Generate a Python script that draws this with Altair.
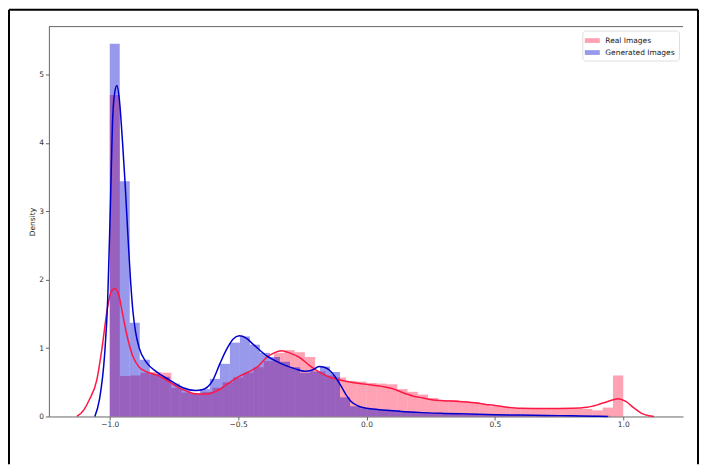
import altair as alt
import pandas as pd

# ---------------- data ----------------
series = ["Real Images", "Generated Images"]

REAL_BIN_START = -1.0
REAL_BIN_WIDTH = 0.04
real_density = [
    4.70, 0.59, 0.60, 0.64, 0.65, 0.64, 0.42, 0.35, 0.33, 0.36,
    0.42, 0.50, 0.57, 0.64, 0.72, 0.81, 0.93, 0.97, 0.94, 0.87,
    0.66, 0.60, 0.57, 0.52, 0.51, 0.49, 0.48, 0.47, 0.40, 0.36,
    0.32, 0.27, 0.24, 0.24, 0.22, 0.21, 0.18, 0.15, 0.14, 0.12,
    0.12, 0.11, 0.11, 0.11, 0.11, 0.11, 0.11, 0.09, 0.13, 0.60,
]

GEN_BIN_START = -1.0
GEN_BIN_WIDTH = 0.039
gen_density = [
    5.45, 3.44, 1.37, 0.83, 0.62, 0.58, 0.48, 0.40, 0.34, 0.40,
    0.55, 0.77, 1.08, 1.17, 1.05, 0.93, 0.87, 0.80, 0.72, 0.64,
    0.66, 0.73, 0.65, 0.28, 0.15, 0.12, 0.11, 0.10, 0.09, 0.08,
    0.07, 0.06, 0.05, 0.04, 0.04, 0.03, 0.03, 0.02, 0.02, 0.02,
    0.02, 0.02, 0.01, 0.01, 0.01, 0.01, 0.01, 0.01, 0.01, 0.01,
]

real_kde_x = [-1.128, -1.10, -1.08, -1.05, -1.03, -1.01, -0.995, -0.98, -0.965, -0.95,
              -0.935, -0.91, -0.885, -0.86, -0.83, -0.80, -0.77, -0.74, -0.70, -0.66,
              -0.62, -0.58, -0.54, -0.50, -0.46, -0.42, -0.39, -0.36, -0.33, -0.30,
              -0.26, -0.22, -0.18, -0.14, -0.10, -0.06, -0.02, 0.02, 0.06, 0.10,
              0.14, 0.18, 0.22, 0.26, 0.30, 0.36, 0.42, 0.48, 0.54, 0.60,
              0.70, 0.80, 0.86, 0.90, 0.94, 0.98, 1.01, 1.04, 1.07, 1.10, 1.12]
real_kde_y = [0.0, 0.10, 0.24, 0.54, 1.00, 1.56, 1.82, 1.87, 1.78, 1.50,
              1.22, 0.88, 0.72, 0.66, 0.62, 0.58, 0.51, 0.44, 0.37, 0.33,
              0.33, 0.38, 0.48, 0.58, 0.65, 0.74, 0.86, 0.93, 0.96, 0.93,
              0.86, 0.74, 0.64, 0.57, 0.53, 0.50, 0.48, 0.46, 0.44, 0.41,
              0.35, 0.30, 0.27, 0.24, 0.23, 0.22, 0.20, 0.17, 0.14, 0.12,
              0.115, 0.12, 0.135, 0.17, 0.22, 0.26, 0.22, 0.13, 0.05, 0.01, 0.0]

gen_kde_x = [-1.058, -1.04, -1.02, -1.008, -0.998, -0.988, -0.98, -0.972, -0.963, -0.95,
             -0.94, -0.93, -0.92, -0.91, -0.90, -0.885, -0.857, -0.82, -0.77, -0.715,
             -0.665, -0.64, -0.60, -0.57, -0.545, -0.52, -0.495, -0.47, -0.44, -0.39,
             -0.33, -0.28, -0.24, -0.21, -0.185, -0.165, -0.145, -0.12, -0.10, -0.08,
             -0.06, -0.03, 0.0, 0.05, 0.12, 0.2, 0.3, 0.4, 0.5, 0.6,
             0.7, 0.8, 0.9, 0.94]
gen_kde_y = [0.0, 0.25, 0.9, 1.7, 3.0, 4.4, 4.75, 4.84, 4.65, 4.0,
             3.4, 2.7, 2.05, 1.55, 1.25, 1.0, 0.79, 0.66, 0.54, 0.42,
             0.38, 0.39, 0.52, 0.78, 0.98, 1.13, 1.18, 1.15, 1.05, 0.89,
             0.77, 0.70, 0.66, 0.68, 0.73, 0.72, 0.68, 0.57, 0.45, 0.32,
             0.22, 0.15, 0.12, 0.10, 0.08, 0.06, 0.045, 0.035, 0.025, 0.02,
             0.015, 0.01, 0.005, 0.0]

x_ticks = [-1.0, -0.5, 0.0, 0.5, 1.0]
y_ticks = [0, 1, 2, 3, 4, 5]

# ---------------- tables ----------------
def hist_table(start, width, dens, name):
    return pd.DataFrame({
        "start": [start + i * width for i in range(len(dens))],
        "end": [start + (i + 1) * width for i in range(len(dens))],
        "density": dens,
        "base": [0.0] * len(dens),
        "series": [name] * len(dens),
    })

real_hist = hist_table(REAL_BIN_START, REAL_BIN_WIDTH, real_density, series[0])
gen_hist = hist_table(GEN_BIN_START, GEN_BIN_WIDTH, gen_density, series[1])
real_kde = pd.DataFrame({"x": real_kde_x, "y": real_kde_y, "series": series[0]})
gen_kde = pd.DataFrame({"x": gen_kde_x, "y": gen_kde_y, "series": series[1]})

RED = "#ff1744"
BLUE = "#0000cd"
W, H = 636, 391
FONT = "DejaVu Sans"
FS = 7.5

color_scale = alt.Scale(domain=series, range=[RED, BLUE])
xs = alt.Scale(domain=[-1.237, 1.233], nice=False, zero=False)
ys = alt.Scale(domain=[0, 5.70], nice=False, zero=True)

xaxis = alt.Axis(values=x_ticks, format=".1f", title=None, grid=False, tickSize=3.5,
                 labelFontSize=FS, labelPadding=1, labelFont=FONT, labelColor="#333",
                 domainColor="#666", tickColor="#666")
yaxis = alt.Axis(values=y_ticks, format="d", title="Density", grid=False, tickSize=3.5,
                 labelFontSize=FS, labelPadding=2, labelFont=FONT, labelColor="#333",
                 titleFont=FONT, titleFontSize=FS, titleFontWeight="normal", titleColor="#222",
                 titlePadding=2, domainColor="#666", tickColor="#666")

legend = alt.Legend(title=None, orient="none", legendX=535, legendY=4,
                    symbolType="M-1.25,-0.4H1.25V0.4H-1.25Z", symbolSize=144,
                    symbolOpacity=0.4, symbolStrokeWidth=0,
                    labelFont=FONT, labelFontSize=FS, labelColor="#222", labelOffset=7,
                    fillColor="white", strokeColor="#dddddd", cornerRadius=3,
                    padding=4, rowPadding=2)


def hist_layer(df):
    return alt.Chart(df).mark_rect(opacity=0.4, strokeWidth=0).encode(
        x=alt.X("start:Q", scale=xs, axis=xaxis),
        x2="end:Q",
        y=alt.Y("density:Q", scale=ys, axis=yaxis),
        y2="base:Q",
        color=alt.Color("series:N", scale=color_scale, legend=legend),
    )


def kde_layer(df):
    return alt.Chart(df).mark_line(strokeWidth=1.5, interpolate="monotone").encode(
        x=alt.X("x:Q", scale=xs, axis=xaxis),
        y=alt.Y("y:Q", scale=ys, axis=yaxis),
        color=alt.Color("series:N", scale=color_scale, legend=None),
    )

one = pd.DataFrame({"v": [0]})
top_spine = alt.Chart(one).mark_rule(color="#666", strokeWidth=1).encode(
    x=alt.value(0), x2=alt.value(W), y=alt.value(0))
# outer black frame (left, top, right sides; bottom is below the visible page)
frame_left = alt.Chart(one).mark_rule(color="black", strokeWidth=2).encode(
    x=alt.value(-40), y=alt.value(-17), y2=alt.value(439))
frame_top = alt.Chart(one).mark_rule(color="black", strokeWidth=2).encode(
    x=alt.value(-40), x2=alt.value(651), y=alt.value(-17))
frame_right = alt.Chart(one).mark_rule(color="black", strokeWidth=2).encode(
    x=alt.value(651), y=alt.value(-17), y2=alt.value(439))

chart = alt.layer(
    hist_layer(real_hist), hist_layer(gen_hist),
    kde_layer(real_kde), kde_layer(gen_kde),
    top_spine, frame_left, frame_top, frame_right,
).properties(
    width=W, height=H,
    autosize=alt.AutoSizeParams(type="none"),
    padding={"left": 41, "top": 18, "right": 16, "bottom": 48},
    background="white",
).configure_view(stroke=None)

chart.save("out.html", embed_options={"renderer": "svg", "actions": False})
